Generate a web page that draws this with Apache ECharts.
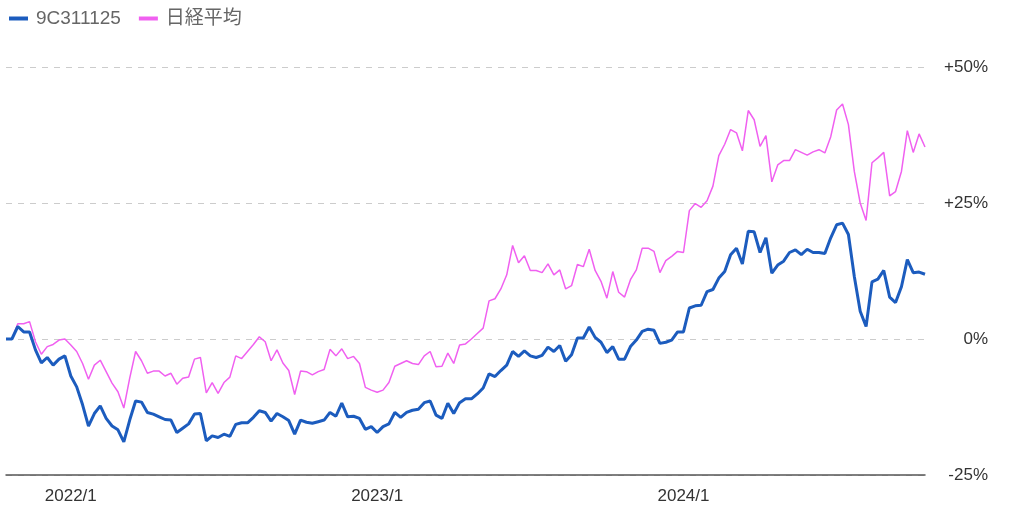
<!DOCTYPE html>
<html>
<head>
<meta charset="utf-8">
<script src="https://cdn.jsdelivr.net/npm/echarts@6/dist/echarts.min.js"></script>
<style>
html,body{margin:0;padding:0;background:#fff;}
#c{width:1024px;height:516px;}
</style>
</head>
<body>
<div id="c"></div>
<script>
// Weekly dates (category axis), first week 2021-10-22
const startDate = '2021-10-22';
const seriesNames = ['9C311125', '日経平均'];
const fundValues = [
0,0,2.3,1.3,1.3,-2.0,-4.4,-3.4,-4.8,-3.7,
-3.1,-6.8,-8.8,-12.1,-16.0,-13.7,-12.3,-14.6,-16.0,-16.7,
-18.9,-14.9,-11.4,-11.6,-13.5,-13.8,-14.3,-14.8,-14.9,-17.2,
-16.4,-15.6,-13.8,-13.7,-18.7,-17.8,-18.1,-17.5,-17.9,-15.7,
-15.4,-15.4,-14.4,-13.2,-13.5,-15.1,-13.7,-14.3,-15.0,-17.5,
-14.9,-15.3,-15.5,-15.2,-14.9,-13.5,-14.2,-11.8,-14.3,-14.2,
-14.6,-16.6,-16.1,-17.2,-16.1,-15.6,-13.5,-14.4,-13.5,-13.1,
-12.9,-11.7,-11.4,-14.0,-14.6,-11.8,-13.7,-11.7,-11.0,-11.0,
-10.1,-9.0,-6.4,-6.9,-5.8,-4.8,-2.3,-3.2,-2.2,-3.1,
-3.4,-3.0,-1.5,-2.3,-1.2,-4.1,-2.9,0.2,0.2,2.2,
0.3,-0.6,-2.5,-1.4,-3.7,-3.7,-1.4,-0.2,1.4,1.8,
1.6,-0.8,-0.6,-0.2,1.3,1.3,5.7,6.1,6.2,8.7,
9.1,11.2,12.4,15.5,16.7,13.8,19.8,19.7,15.9,18.6,
12.1,13.6,14.3,15.9,16.4,15.5,16.5,15.9,15.9,15.7,
18.6,21.0,21.3,19.2,11.5,5.1,2.3,10.5,11.0,12.6,
7.7,6.7,9.6,14.6,12.2,12.3,11.9
];
const nikkeiValues = [
0,0,2.8,2.8,3.2,-0.5,-2.8,-1.4,-1.0,-0.2,
0,-1.1,-2.3,-4.5,-7.4,-4.8,-3.9,-6.0,-8.1,-9.7,
-12.7,-7.2,-2.3,-4.0,-6.3,-5.9,-5.9,-6.8,-6.3,-8.3,
-7.2,-7.0,-3.7,-3.4,-9.9,-8.0,-10.0,-8.0,-7.0,-3.1,
-3.6,-2.3,-1.0,0.4,-0.5,-4.0,-2.0,-4.4,-5.8,-10.2,
-5.9,-6.0,-6.6,-6.0,-5.6,-1.9,-3.1,-1.8,-3.6,-3.2,
-4.5,-8.9,-9.4,-9.8,-9.4,-8.0,-5.0,-4.5,-4.0,-4.5,
-4.7,-3.1,-2.3,-5.1,-5.0,-2.6,-4.5,-1.1,-0.9,0,
1.0,2.0,7.0,7.4,9.2,11.8,17.2,14.0,15.3,12.6,
12.6,12.2,13.8,11.8,12.7,9.2,9.8,13.7,13.3,16.5,
12.6,10.6,7.5,12.4,8.6,7.7,10.9,12.7,16.7,16.7,
16.1,12.2,14.4,15.2,16.1,15.9,23.6,24.9,24.2,25.4,
28.1,33.7,35.8,38.5,37.9,34.6,42.0,40.3,35.4,37.4,
28.9,32.0,32.8,32.8,34.8,34.3,33.8,34.4,34.8,34.2,
37.2,42.1,43.2,39.4,30.8,25.0,21.8,32.4,33.3,34.3,
26.3,27.1,30.8,38.3,34.3,37.7,35.3
];
const yTicks = [-25, 0, 25, 50];

const categories = [];
(function(){
  const d0 = new Date(startDate + 'T00:00:00Z');
  for (let i = 0; i < fundValues.length; i++) {
    const d = new Date(d0.getTime() + i * 7 * 86400000);
    const y = d.getUTCFullYear(), m = d.getUTCMonth() + 1, dd = d.getUTCDate();
    categories.push(y + '-' + String(m).padStart(2,'0') + '-' + String(dd).padStart(2,'0'));
  }
})();

function isYearStart(v){
  const p = v.split('-');
  return p[1] === '01' && parseInt(p[2],10) <= 7;
}

const FONT = "'Liberation Sans','Noto Sans CJK JP',sans-serif";
const chart = echarts.init(document.getElementById('c'));
chart.setOption({
  animation: false,
  textStyle: { fontFamily: FONT },
  legend: {
    left: 4, top: 4,
    icon: 'rect',
    itemWidth: 19, itemHeight: 4, itemGap: 18,
    textStyle: { color: '#666', fontSize: 19, fontFamily: FONT, padding: [0, 0, 0, 3] },
    data: seriesNames
  },
  grid: { left: 6, right: 99, top: 67, bottom: 41, containLabel: false },
  xAxis: {
    type: 'category',
    data: categories,
    boundaryGap: false,
    axisLine: { show: true, onZero: false, lineStyle: { color: '#555', width: 1.5 } },
    axisTick: { show: false },
    splitLine: { show: false },
    axisLabel: {
      interval: function(idx, v){ return isYearStart(v); },
      formatter: function(v){ return v.split('-')[0] + '/1'; },
      color: '#333', fontSize: 17, margin: 13
    }
  },
  yAxis: {
    type: 'value',
    position: 'right',
    min: yTicks[0], max: yTicks[yTicks.length-1], interval: 25,
    axisLine: { show: false },
    axisTick: { show: false },
    splitLine: { show: true, lineStyle: { color: '#cccccc', type: [6, 6], width: 1 } },
    axisLabel: {
      align: 'right', margin: 63, color: '#333', fontSize: 17,
      formatter: function(v){ return (v > 0 ? '+' : '') + v + '%'; }
    }
  },
  series: [
    {
      name: seriesNames[0], type: 'line', data: fundValues,
      showSymbol: false, symbol: 'none', z: 3,
      lineStyle: { color: '#1c5cbe', width: 3 },
      itemStyle: { color: '#1c5cbe' }
    },
    {
      name: seriesNames[1], type: 'line', data: nikkeiValues,
      showSymbol: false, symbol: 'none', z: 2,
      lineStyle: { color: '#f060f0', width: 1.5 },
      itemStyle: { color: '#f060f0' }
    }
  ]
});
</script>
</body>
</html>
